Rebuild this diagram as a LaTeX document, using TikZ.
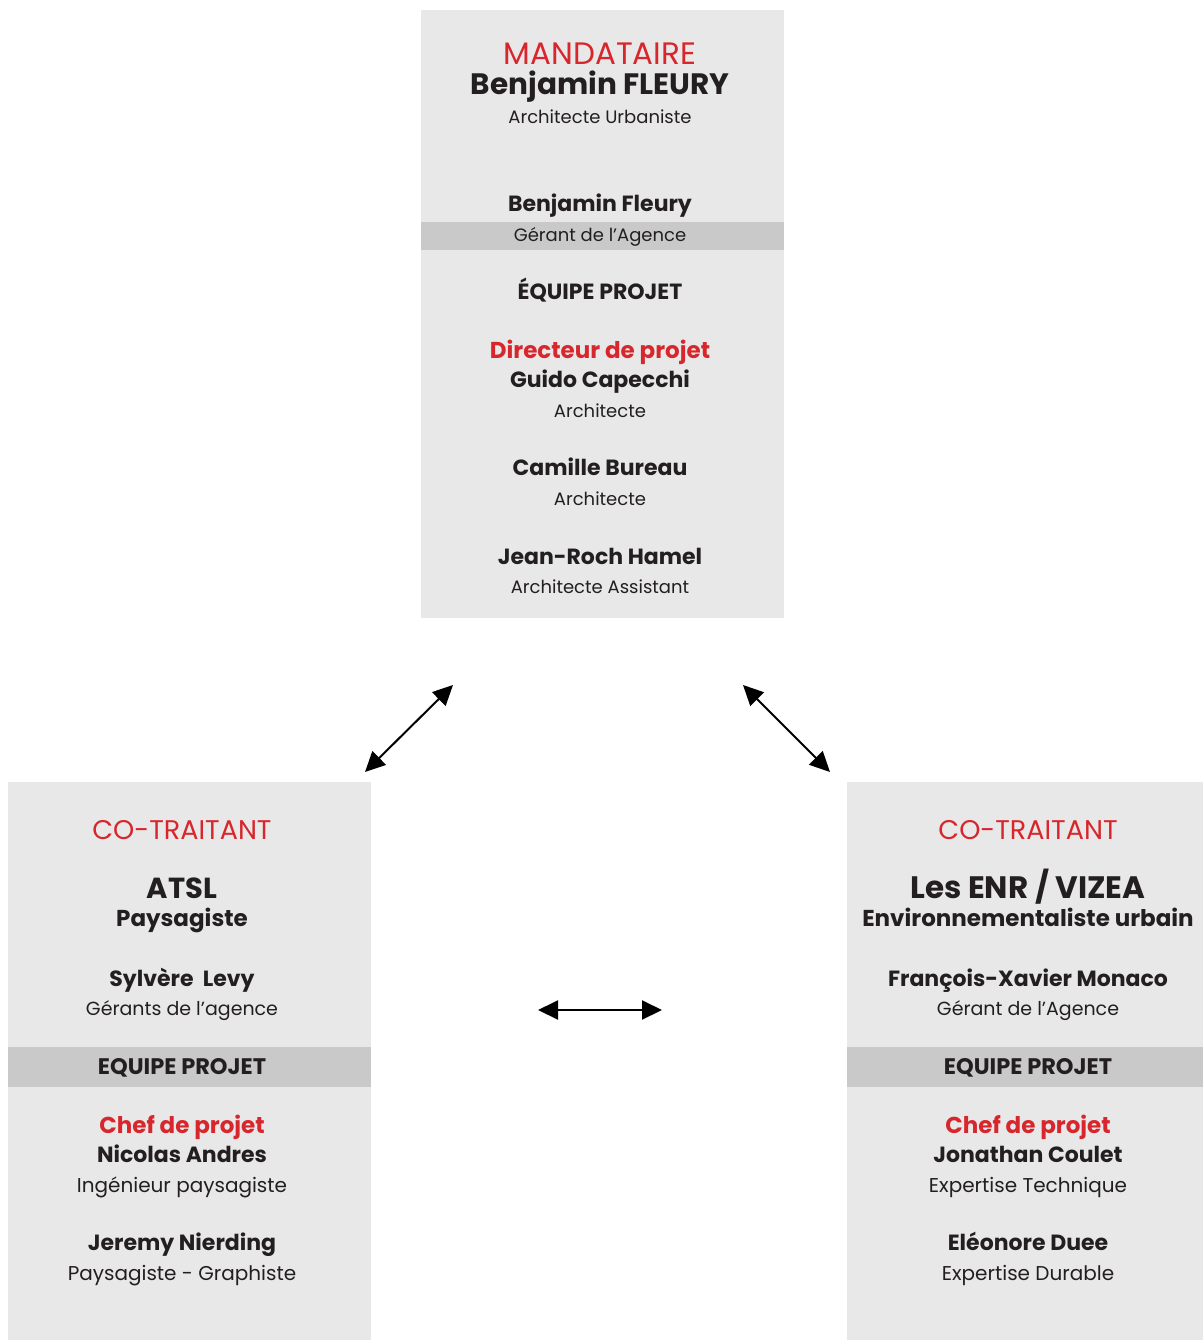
\documentclass[tikz,border=0pt]{standalone}
\usepackage{fontspec}
\setmainfont{Poppins}
\usetikzlibrary{positioning,arrows.meta}
\definecolor{boxgray}{HTML}{E8E8E8}
\definecolor{bandgray}{HTML}{C9C9C9}
\definecolor{titlered}{HTML}{D7262C}
\definecolor{inkdark}{HTML}{231F20}
\newcommand{\fs}[1]{\fontsize{#1}{#1}\selectfont}

\tikzset{
  panel/.style={fill=boxgray, draw=none, inner sep=0pt},
  band/.style={fill=bandgray, draw=none, inner sep=0pt},
  line/.style={inner sep=0pt, text depth=0pt, text height=0.7*#1},
  redtitle/.style={line=27pt, text=titlered, font=\fs{27}},
  bigname/.style={line=29pt, text=inkdark, font=\fs{29}\bfseries},
  person/.style={line=22pt, text=inkdark, font=\fs{22}\bfseries},
  rolered/.style={line=22pt, text=titlered, font=\fs{23}\bfseries},
  jobtext/.style={line=18pt, text=inkdark, font=\fs{18}},
  twoway/.style={{Triangle[length=20pt,width=19pt]}-{Triangle[length=20pt,width=19pt]}, line width=2pt, black}
}

\begin{document}
\begin{tikzpicture}[x=1pt,y=-1pt]

  \useasboundingbox (0,0) rectangle (1203,1340);

  % boxes
  \node [panel, minimum width=363, minimum height=608] (top) at (602.5,314) {};
  \node [band, minimum width=363, minimum height=28] (topband) at (602.5,236) {};
  \node [panel, minimum width=363, minimum height=558] (left) at (189.5,1061) {};
  \node [band, minimum width=363, minimum height=40] (leftband) at (189.5,1067) {};
  \node [panel, minimum width=356, minimum height=558] (right) at (1025,1061) {};
  \node [band, minimum width=356, minimum height=40] (rightband) at (1025,1067) {};

  % mandataire
  \node [redtitle, font=\fs{31}] (mand) at (600,55) {MANDATAIRE};
  \node [bigname, font=\fs{29.5}\bfseries] (mandname) at (600,84) {Benjamin FLEURY};
  \node [jobtext] (mandrole) at (600,117) {Architecte Urbaniste};
  \node [person] (gerant) at (600,204) {Benjamin Fleury};
  \node [jobtext] (gerantrole) at (600,235) {Gérant de l’Agence};
  \node [person] (equipe) at (600,292) {ÉQUIPE PROJET};
  \node [rolered] (directeur) at (600,351) {Directeur de projet};
  \node [person] (guido) at (600,380) {Guido Capecchi};
  \node [jobtext] (guidorole) at (600,411) {Architecte};
  \node [person] (camille) at (600,468) {Camille Bureau};
  \node [jobtext] (camillerole) at (600,499) {Architecte};
  \node [person] (jeanroch) at (600,557) {Jean-Roch Hamel};
  \node [jobtext] (jeanrochrole) at (600,587) {Architecte Assistant};

  % co-traitant ATSL
  \node [redtitle] (cotA) at (182,830) {CO-TRAITANT};
  \node [bigname] (atsl) at (182,888) {ATSL};
  \node [person, font=\fs{23}\bfseries] (atslrole) at (182,919) {Paysagiste};
  \node [person] (levy) at (182,979) {Sylvère\ \ Levy};
  \node [jobtext, font=\fs{19}] (levyrole) at (182,1009) {Gérants de l’agence};
  \node [person, font=\fs{22.5}\bfseries] (equipeA) at (182,1067) {EQUIPE PROJET};
  \node [rolered] (chefA) at (182,1126) {Chef de projet};
  \node [person] (andres) at (182,1155) {Nicolas Andres};
  \node [jobtext, font=\fs{20}] (andresrole) at (182,1186) {Ingénieur paysagiste};
  \node [person] (nierding) at (182,1243) {Jeremy Nierding};
  \node [jobtext, font=\fs{20}] (nierdingrole) at (182,1274) {Paysagiste - Graphiste};

  % co-traitant ENR / VIZEA
  \node [redtitle] (cotB) at (1028,830) {CO-TRAITANT};
  \node [bigname, font=\fs{31}\bfseries] (vizea) at (1028,888) {Les ENR / VIZEA};
  \node [person, font=\fs{23}\bfseries] (vizearole) at (1028,919) {Environnementaliste urbain};
  \node [person] (monaco) at (1028,979) {François-Xavier Monaco};
  \node [jobtext, font=\fs{19}] (monacorole) at (1028,1009) {Gérant de l’Agence};
  \node [person, font=\fs{22.5}\bfseries] (equipeB) at (1028,1067) {EQUIPE PROJET};
  \node [rolered] (chefB) at (1028,1126) {Chef de projet};
  \node [person] (coulet) at (1028,1155) {Jonathan Coulet};
  \node [jobtext, font=\fs{20}] (couletrole) at (1028,1186) {Expertise Technique};
  \node [person] (duee) at (1028,1243) {Eléonore Duee};
  \node [jobtext, font=\fs{20}] (dueerole) at (1028,1274) {Expertise Durable};

  % arrows
  \coordinate (a1) at (365,772);
  \coordinate (a2) at (453,685);
  \coordinate (b1) at (743,685);
  \coordinate (b2) at (830,772);
  \coordinate (c1) at (538,1010);
  \coordinate (c2) at (662,1010);
  \draw [twoway] (a1) -- (a2);
  \draw [twoway] (b1) -- (b2);
  \draw [twoway] (c1) -- (c2);

\end{tikzpicture}
\end{document}
